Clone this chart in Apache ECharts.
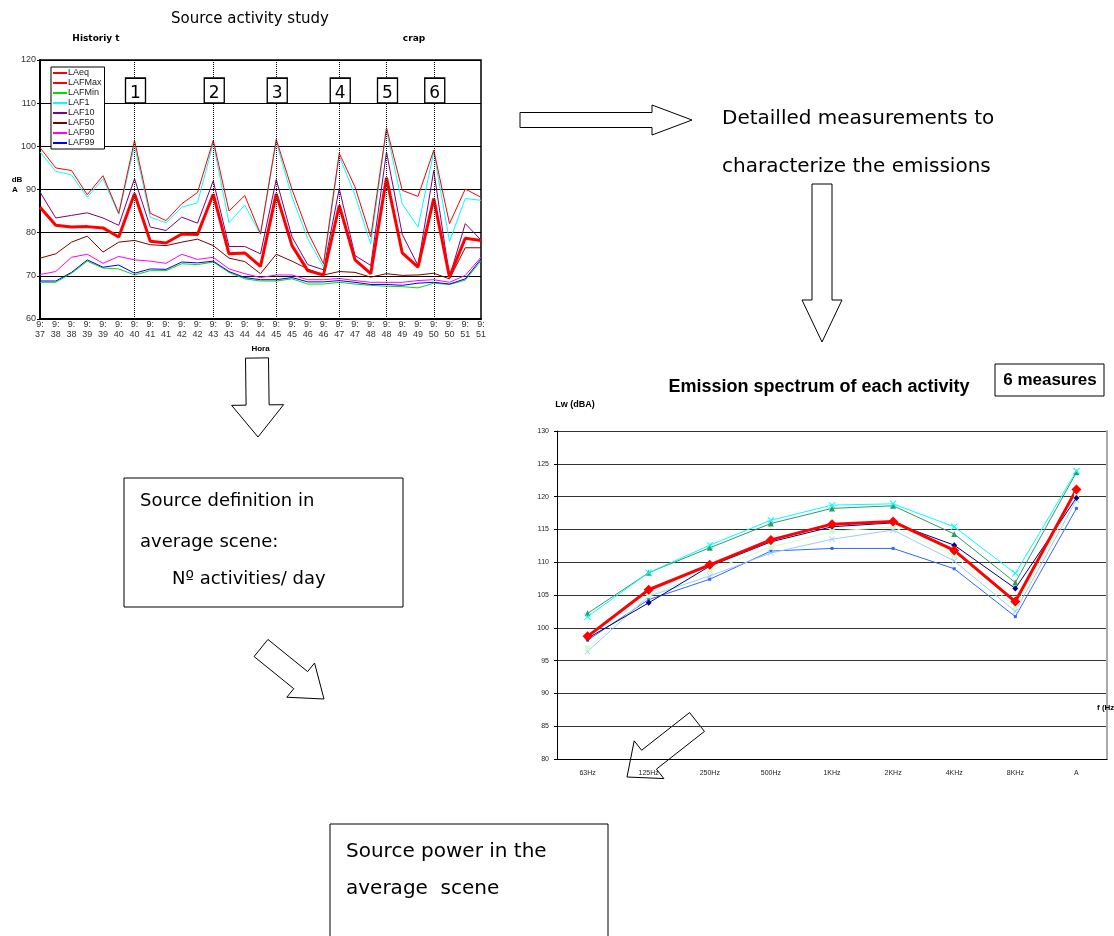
<!DOCTYPE html>
<html><head><meta charset="utf-8">
<script src="https://cdn.jsdelivr.net/npm/echarts@6/dist/echarts.min.js"></script>
<style>html,body{margin:0;padding:0;background:#fff}#c{width:1114px;height:936px}</style>
</head><body><div id="c"></div>
<script>
// ---- Left chart: source activity history ----
const times = ['9:37','9:38','9:38','9:39','9:39','9:40','9:40','9:41','9:41','9:42','9:42','9:43','9:43','9:44','9:44','9:45','9:45','9:46','9:46','9:47','9:47','9:48','9:48','9:49','9:49','9:50','9:50','9:51','9:51'];
const LAeq   = [85.9,81.7,81.3,81.4,81.1,79.0,89.0,78.0,77.6,79.7,79.6,88.9,75.1,75.3,72.2,89.0,77.0,71.2,70.2,86.3,73.7,70.5,92.7,75.3,72.0,87.9,69.7,78.7,78.2];
const LAFMax = [99.7,95.0,94.4,88.8,93.2,84.5,101.4,84.5,82.8,86.7,89.3,101.4,85.0,88.6,79.7,101.6,90.0,80.1,72.8,98.4,90.6,79.0,104.3,89.8,88.4,99.1,82.1,90.1,88.2];
const LAFMin = [68.5,68.5,70.6,73.4,71.8,71.6,70.2,71.2,71.2,72.8,72.6,73.2,70.8,69.3,68.8,68.8,69.3,68.1,68.1,68.5,68.1,67.8,67.6,67.5,67.2,68.3,68.0,69.0,73.5];
const LAF1   = [98.7,94.2,93.4,88.2,92.5,84.2,100.2,83.6,82.3,85.9,86.9,100.8,82.3,86.4,79.6,101.0,88.3,78.6,72.0,97.7,88.7,77.4,103.7,86.7,81.3,98.7,78.0,87.9,87.5];
const LAF10  = [89.4,83.4,84.0,84.6,83.4,81.7,92.5,81.3,80.5,83.6,82.2,92.0,76.8,76.8,75.1,92.3,79.0,72.6,71.4,90.2,74.7,72.4,98.7,79.6,72.4,94.4,69.7,82.1,78.3];
const LAF50  = [74.1,75.1,77.8,79.2,75.5,77.8,78.2,77.2,77.0,77.8,78.5,77.0,74.1,73.3,70.5,75.0,73.4,71.6,70.2,71.0,70.8,69.7,70.5,70.1,70.2,70.6,69.3,76.5,76.5];
const LAF90  = [70.3,71.0,74.3,75.0,72.9,74.5,73.7,73.4,72.9,75.0,73.8,74.3,71.6,70.5,69.6,70.2,70.2,69.1,69.1,69.4,68.9,68.5,68.5,68.5,68.9,69.1,68.5,70.1,74.3];
const LAF99  = [68.8,68.8,70.8,73.7,72.0,72.5,70.6,71.6,71.5,73.2,73.0,73.4,71.0,69.6,69.1,69.1,69.6,68.6,68.6,68.9,68.5,68.0,68.0,67.8,68.3,68.5,68.1,69.3,73.9];
const eventIdx = [6, 11, 15, 19, 22, 25];
const eventLabels = ['1','2','3','4','5','6'];
const leftTicks = {min: 60, max: 120, interval: 10};

// ---- Right chart: emission spectrum ----
const freqs = ['63Hz','125Hz','250Hz','500Hz','1KHz','2KHz','4KHz','8KHz','A'];
const meas1 = [98.4,103.8,109.4,113.1,115.4,116.0,112.6,106.0,119.8];
const meas2 = [102.2,108.4,112.2,115.9,118.2,118.6,114.3,106.9,123.7];
const meas3 = [101.7,108.4,112.6,116.4,118.7,118.9,115.4,108.3,123.9];
const meas4 = [96.4,104.8,107.9,111.4,113.5,114.9,110.2,102.5,119.5];
const meas5 = [96.9,104.9,108.7,112.3,114.7,115.4,111.0,103.2,120.2];
const meas6 = [98.1,104.3,107.4,111.7,112.1,112.1,109.0,101.7,118.2];
const average = [98.7,105.8,109.6,113.4,115.8,116.2,111.8,104.0,121.1];
const rightTicks = {min: 80, max: 130, interval: 5};

const chart = echarts.init(document.getElementById('c'), null, {renderer: 'canvas'});
const AX = 'Liberation Sans, Arial, sans-serif';
const HU = 'DejaVu Sans, sans-serif';
const X = 'path://M0,1L1,0L5,4L9,0L10,1L6,5L10,9L9,10L5,6L1,10L0,9L4,5Z';

function arrowPts(sx, sy, tx, ty, sw, hw, hl) {
  const dx = tx - sx, dy = ty - sy, L = Math.hypot(dx, dy);
  const ux = dx / L, uy = dy / L, px = -uy, py = ux;
  const bx = tx - ux * hl, by = ty - uy * hl;
  return [[sx + px*sw/2, sy + py*sw/2], [bx + px*sw/2, by + py*sw/2], [bx + px*hw/2, by + py*hw/2],
          [tx, ty], [bx - px*hw/2, by - py*hw/2], [bx - px*sw/2, by - py*sw/2], [sx - px*sw/2, sy - py*sw/2]];
}
function arrow(pts, z) {
  return {type: 'polygon', shape: {points: pts}, style: {fill: '#fff', stroke: '#000', lineWidth: 1}, z: z === undefined ? 10 : z};
}
function txt(x, y, t, font, extra) {
  return {type: 'text', x: x, y: y, z: 20,
          style: Object.assign({text: t, font: font, fill: '#000', textAlign: 'left', textVerticalAlign: 'middle'}, extra || {})};
}

const leftLine = (name, data, color, w) => ({
  name: name, type: 'line', xAxisIndex: 0, yAxisIndex: 0, data: data, symbol: 'none',
  lineStyle: {color: color, width: w}, itemStyle: {color: color}, animation: false
});
const rightLine = (name, data, color, w, sym, size) => ({
  name: name, type: 'line', xAxisIndex: 1, yAxisIndex: 1, data: data, symbol: sym, symbolSize: size, showSymbol: true,
  lineStyle: {color: color, width: w}, itemStyle: {color: color}, animation: false
});

const leftSeries = [
  leftLine('LAFMin', LAFMin, '#00e000', 1),
  leftLine('LAF99', LAF99, '#0000ff', 1),
  leftLine('LAF90', LAF90, '#ff00ff', 1),
  leftLine('LAF50', LAF50, '#800000', 1),
  leftLine('LAF10', LAF10, '#800080', 1),
  leftLine('LAF1', LAF1, '#00ffff', 1),
  leftLine('LAFMax', LAFMax, '#ff0000', 1),
  leftLine('LAeq', LAeq, '#ff0000', 3)
];
leftSeries[7].markLine = {
  silent: true, symbol: 'none', label: {show: false},
  lineStyle: {color: '#000', type: 'dotted', width: 1},
  data: eventIdx.map(i => ({xAxis: i}))
};

const option = {
  backgroundColor: '#fff',
  animation: false,
  legend: {
    orient: 'vertical', left: 51, top: 67, itemWidth: 14, itemHeight: 2, itemGap: 0, icon: 'rect',
    padding: [1, 3, 1, 2], borderColor: '#000', borderWidth: 1, backgroundColor: '#fff',
    textStyle: {fontSize: 9, lineHeight: 10, fontFamily: AX, color: '#222', padding: [0, 0, 0, -4]},
    data: ['LAeq','LAFMax','LAFMin','LAF1','LAF10','LAF50','LAF90','LAF99'],
    selectedMode: false
  },
  grid: [
    {left: 40, top: 60, width: 441, height: 259, show: true, borderColor: '#000', borderWidth: 1.5, backgroundColor: 'transparent'},
    {left: 557, top: 431, width: 550, height: 328}
  ],
  xAxis: [
    {type: 'category', gridIndex: 0, data: times, boundaryGap: false,
     name: 'Hora', nameLocation: 'middle', nameGap: 26,
     nameTextStyle: {fontFamily: AX, fontSize: 8, fontWeight: 'bold', color: '#000'},
     axisLine: {lineStyle: {color: '#000', width: 2}}, axisTick: {show: false},
     axisLabel: {interval: 0, fontSize: 9, lineHeight: 10, fontFamily: AX, color: '#333', margin: 1,
                 formatter: v => v.replace(':', ':\n')}},
    {type: 'category', gridIndex: 1, data: freqs, boundaryGap: true,
     axisLine: {lineStyle: {color: '#000', width: 1}}, axisTick: {show: false},
     axisLabel: {interval: 0, fontSize: 7, fontFamily: AX, color: '#222', margin: 11}}
  ],
  yAxis: [
    {type: 'value', gridIndex: 0, min: leftTicks.min, max: leftTicks.max, interval: leftTicks.interval,
     axisLine: {show: true, lineStyle: {color: '#000', width: 2}},
     axisTick: {show: true, length: 3, lineStyle: {color: '#000'}},
     axisLabel: {fontSize: 9, fontFamily: AX, color: '#333', margin: 4},
     splitLine: {show: true, lineStyle: {color: '#000', width: 1}}},
    {type: 'value', gridIndex: 1, min: rightTicks.min, max: rightTicks.max, interval: rightTicks.interval,
     axisLine: {show: true, lineStyle: {color: '#000', width: 1}},
     axisTick: {show: true, length: 3, lineStyle: {color: '#000'}},
     axisLabel: {fontSize: 7, fontFamily: AX, color: '#222', margin: 8},
     splitLine: {show: true, lineStyle: {color: '#333', width: 1}}},
    {type: 'value', gridIndex: 1, position: 'right', min: rightTicks.min, max: rightTicks.max, interval: rightTicks.interval,
     axisLine: {show: true, lineStyle: {color: '#aaa', width: 2}}, axisTick: {show: false},
     axisLabel: {show: false}, splitLine: {show: false}}
  ],
  series: leftSeries.concat([
    {name: 'events', type: 'scatter', xAxisIndex: 0, yAxisIndex: 0,
     data: eventIdx.map((i, k) => ({value: [i, 110], label: {formatter: eventLabels[k]}})),
     symbol: 'rect', symbolSize: [20, 25], symbolOffset: [1, '-50%'],
     itemStyle: {color: '#fff', borderColor: '#000', borderWidth: 1.5, opacity: 1},
     label: {show: true, position: 'inside', offset: [0, 3], fontSize: 17, fontFamily: HU, color: '#000'},
     z: 5, silent: true, animation: false},
    rightLine('Measure 6', meas6, '#3366ff', 1, 'rect', 3),
    rightLine('Measure 4', meas4, '#99ccff', 1, X, 6),
    rightLine('Measure 5', meas5, '#ccffcc', 1, 'rect', 5),
    rightLine('Measure 1', meas1, '#000080', 1, 'diamond', 6),
    rightLine('Measure 2', meas2, '#339966', 1, 'triangle', 6),
    rightLine('Measure 3', meas3, '#00ffff', 1, X, 7),
    rightLine('Average', average, '#ff0000', 3, 'diamond', 10)
  ]),
  graphic: [
    txt(250, 19, 'Source activity study', '15px ' + HU, {textAlign: 'center'}),
    txt(96, 39, 'Historiy t', 'bold 9px ' + HU, {textAlign: 'center'}),
    txt(414, 39, 'crap', 'bold 9px ' + HU, {textAlign: 'center'}),
    txt(17, 180, 'dB', 'bold 8px ' + AX, {textAlign: 'center'}),
    txt(15, 190, 'A', 'bold 8px ' + AX, {textAlign: 'center'}),
    arrow(arrowPts(520, 120, 692, 120, 15, 30, 40)),
    txt(722, 119, 'Detailled measurements to', '20px ' + HU),
    txt(722, 167, 'characterize the emissions', '20px ' + HU),
    arrow(arrowPts(822, 184, 822, 342, 20, 40, 42)),
    txt(819, 387, 'Emission spectrum of each activity', 'bold 18px ' + AX, {textAlign: 'center'}),
    {type: 'rect', shape: {x: 995, y: 364, width: 109, height: 32}, style: {fill: '#fff', stroke: '#000', lineWidth: 1}, z: 10},
    txt(1050, 380, '6 measures', 'bold 17px ' + AX, {textAlign: 'center'}),
    txt(575, 405, 'Lw (dBA)', 'bold 9px ' + AX, {textAlign: 'center'}),
    txt(1097, 708, 'f (Hz)', 'bold 8px ' + AX),
    arrow(arrowPts(257, 358, 258, 437, 23, 52, 32)),
    {type: 'rect', shape: {x: 124, y: 478, width: 279, height: 129}, style: {fill: '#fff', stroke: '#000', lineWidth: 1}, z: 10},
    txt(140, 501, 'Source definition in', '18px ' + HU),
    txt(140, 542, 'average scene:', '18px ' + HU),
    txt(172, 579, 'Nº activities/ day', '18px ' + HU),
    arrow(arrowPts(261, 648, 324, 699, 22, 44, 30)),
    arrow(arrowPts(697, 722, 627, 777, 24, 48, 28), -1),
    {type: 'rect', shape: {x: 330, y: 824, width: 278, height: 120}, style: {fill: '#fff', stroke: '#000', lineWidth: 1}, z: 10},
    txt(346, 852, 'Source power in the', '20px ' + HU),
    txt(346, 889, 'average  scene', '20px ' + HU)
  ]
};
chart.setOption(option);
</script></body></html>
